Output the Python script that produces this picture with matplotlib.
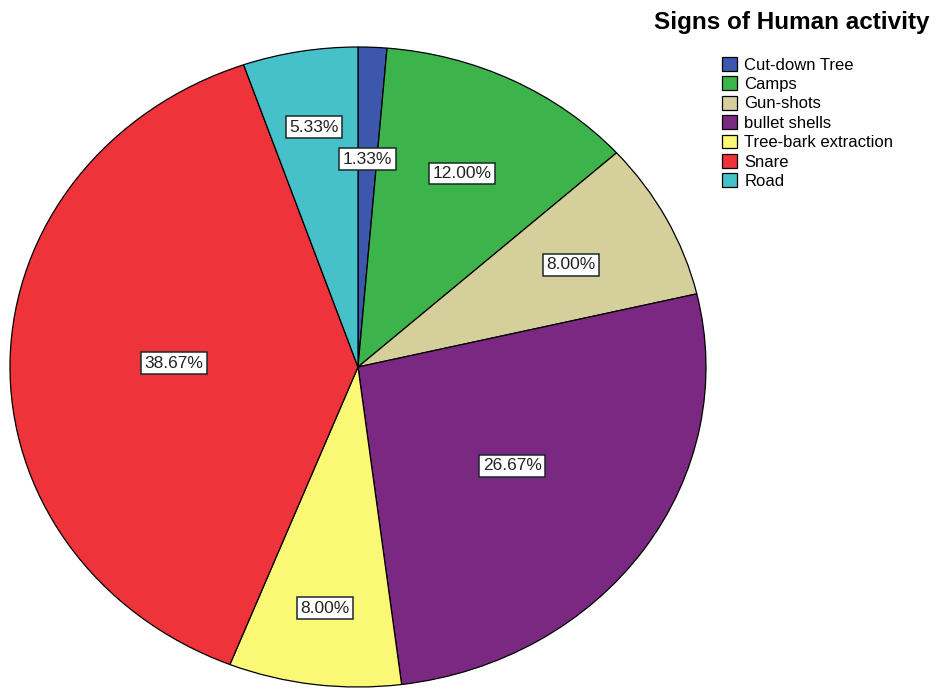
import matplotlib
matplotlib.use("Agg")
import matplotlib.pyplot as plt
import numpy as np

categories = ["Cut-down Tree", "Camps", "Gun-shots", "bullet shells",
              "Tree-bark extraction", "Snare", "Road"]
percents = [1.33, 12.00, 8.00, 26.67, 8.00, 38.67, 5.33]
colors = ["#3d57ac", "#3cb44b", "#d5cf9c", "#7b2882", "#fbf875", "#ef333a", "#46c1ca"]
label_dist = [0.65, 0.675, 0.69, 0.54, 0.76, 0.53, 0.76]

plt.rcParams['font.family'] = ['Liberation Sans', 'DejaVu Sans']

fig = plt.figure(figsize=(9.37, 6.92), dpi=100)
W, H = 937, 692
cx, cy, rx, ry = 358, 367, 348, 320
ax = fig.add_axes([(cx - rx) / W, (H - cy - ry) / H, 2 * rx / W, 2 * ry / H])

wedges, _ = ax.pie(percents, colors=colors, startangle=90, counterclock=False,
                   wedgeprops=dict(edgecolor="black", linewidth=0.9))
ax.set_aspect("auto")
ax.set_xlim(-1, 1)
ax.set_ylim(-1, 1)
ax.axis("off")

for w, p, d in zip(wedges, percents, label_dist):
    ang = np.deg2rad((w.theta1 + w.theta2) / 2)
    ax.text(d * np.cos(ang), d * np.sin(ang), f"{p:.2f}%", ha="center", va="center",
            fontsize=12.5, color="#222222",
            bbox=dict(boxstyle="square,pad=0.2", facecolor="white",
                      edgecolor="#1a2a2a", linewidth=1.1))

fig.text(930 / W, 1 - 22 / H, "Signs of Human activity", ha="right", va="center",
         fontsize=17.5, fontweight="bold")

leg = fig.legend(wedges, categories, loc="upper left",
                 bbox_to_anchor=(722 / W, 1 - 57 / H), frameon=False,
                 fontsize=12, handlelength=0.9, handleheight=0.9,
                 handletextpad=0.45, labelspacing=0.225, borderpad=0, borderaxespad=0)

fig.savefig("out.png", dpi=100)
